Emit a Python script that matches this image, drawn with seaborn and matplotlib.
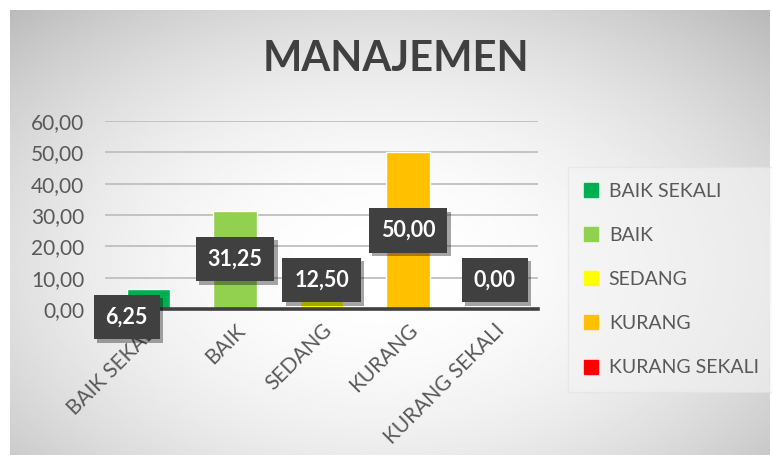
import numpy as np
import pandas as pd
import matplotlib
matplotlib.use("Agg")
import matplotlib.pyplot as plt
import matplotlib.patheffects as pe
from matplotlib.lines import Line2D
import seaborn as sns

# data
categories = ["BAIK SEKALI", "BAIK", "SEDANG", "KURANG", "KURANG SEKALI"]
values = [6.25, 31.25, 12.50, 50.00, 0.00]
colors = ["#00B050", "#92D050", "#FFFF00", "#FFC000", "#FF0000"]
yticks = [0, 10, 20, 30, 40, 50, 60]
title = "MANAJEMEN"

# where the (hand-moved) data labels sit: x offset in categories, y in data units
label_dx = [-0.25, 0, 0, 0, 0]
label_y = [-2.6, 16.0, 9.3, 25.0, 9.3]

df = pd.DataFrame({"kategori": categories, "nilai": values})

sns.set_theme(style="white")
plt.rcParams["font.family"] = ["Lato", "DejaVu Sans"]
txt_col = "#595959"

fig = plt.figure(figsize=(7.72, 4.67), dpi=100)
fig.patch.set_facecolor("white")

# gray radial gradient behind the chart
bg = fig.add_axes([10 / 772, 12 / 467, 760 / 772, 445 / 467], zorder=0)
yy, xx = np.mgrid[-1:1:300j, -1:1:500j]
r2 = (xx + 0.02) ** 2 + ((yy - 0.15) / 1.1) ** 2
bg.imshow(1 - 0.13 * r2, cmap="gray", vmin=0, vmax=1, aspect="auto",
          interpolation="bilinear")
bg.set_axis_off()

ax = fig.add_axes([105 / 772, 1 - 309 / 467, 433 / 772, 188 / 467], zorder=1)
ax.set_facecolor("none")

sns.barplot(data=df, x="kategori", y="nilai", hue="kategori", palette=colors,
            width=0.5, legend=False, ax=ax, zorder=3, saturation=1)

ax.set_ylim(0, 60)
ax.set_xlim(-0.5, 4.5)
ax.set_yticks(yticks)
ax.set_yticklabels([f"{v:.2f}".replace(".", ",") for v in yticks],
                   fontsize=15, color=txt_col)
ax.yaxis.grid(True, color="#BFBFBF", linewidth=1.3, zorder=0)
ax.set_axisbelow(True)
for s in ["top", "right", "left"]:
    ax.spines[s].set_visible(False)
ax.spines["bottom"].set_color("#404040")
ax.spines["bottom"].set_linewidth(2.6)
ax.spines["bottom"].set_zorder(4)
ax.tick_params(axis="y", length=0, pad=15)
ax.set_xlabel("")
ax.set_ylabel("")

ax.set_xticks(range(len(categories)))
ax.set_xticklabels(categories, rotation=45, ha="right", rotation_mode="anchor",
                   fontsize=15, color=txt_col)
ax.tick_params(axis="x", which="major", length=0, pad=8)
ax.set_xticks(np.arange(-0.5, len(categories)), minor=True)
ax.tick_params(axis="x", which="minor", length=5, width=2.2, color="#404040",
               direction="out")

# data labels with a dark box and drop shadow
for i, v in enumerate(values):
    s = f"{v:.2f}".replace(".", ",")
    t = ax.text(i + label_dx[i], label_y[i], s, ha="center", va="center",
                fontsize=15.5, fontweight="bold", color="white", zorder=6,
                bbox=dict(boxstyle="square,pad=0.55", fc="#404040", ec="none"))
    t.get_bbox_patch().set_path_effects(
        [pe.withSimplePatchShadow(offset=(2.5, -2.5), shadow_rgbFace="black", alpha=0.35)])

fig.text(396 / 772, 1 - 59 / 467, title, ha="center", va="center",
         fontsize=30, fontweight="bold", color="#404040")

handles = [Line2D([], [], marker="s", linestyle="none", markersize=10,
                  markerfacecolor=c, markeredgecolor=c) for c in colors]
leg = fig.legend(handles, categories, loc="upper left",
                 bbox_to_anchor=(568 / 772, 1 - 167 / 467), fontsize=14,
                 labelspacing=1.4, handlelength=0.8, handletextpad=0.5,
                 borderpad=0.8, borderaxespad=0, frameon=True, fancybox=False,
                 labelcolor=txt_col)
leg.get_frame().set_facecolor("#F4F4F4")
leg.get_frame().set_edgecolor("#E2E2E2")
leg.get_frame().set_alpha(0.6)

fig.savefig("out.png", dpi=100, facecolor=fig.get_facecolor())
